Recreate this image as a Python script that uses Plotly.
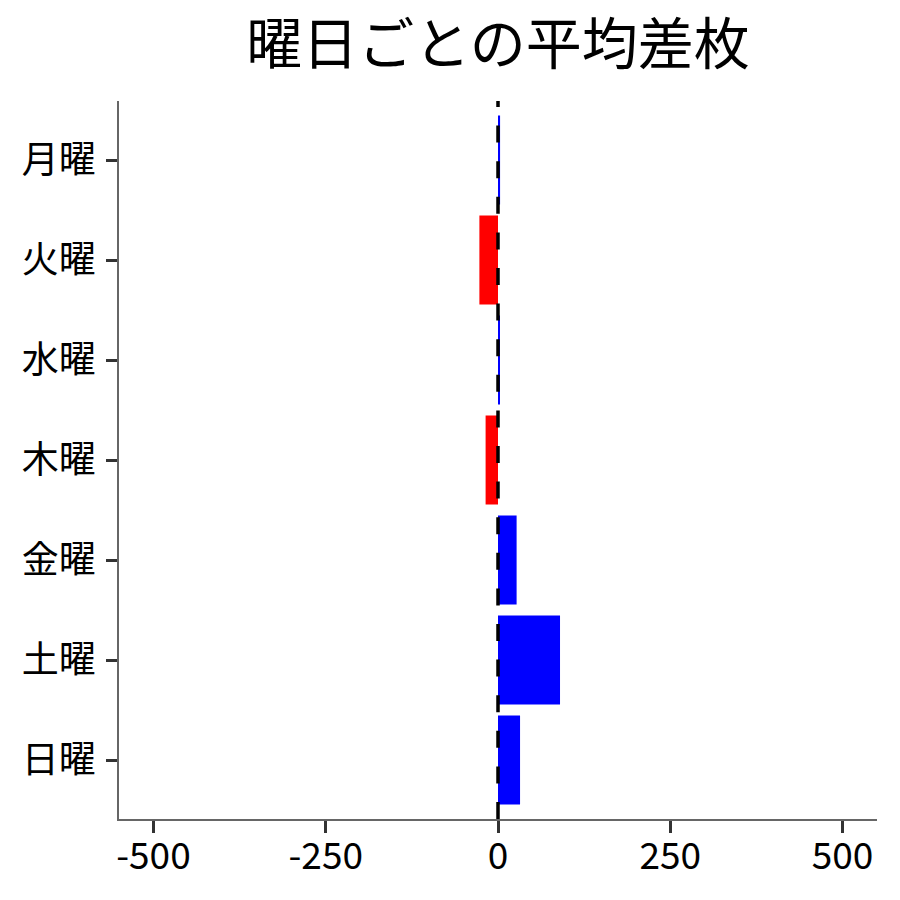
import plotly.graph_objects as go

# 曜日ごとの平均差枚
days = ["月曜", "火曜", "水曜", "木曜", "金曜", "土曜", "日曜"]
avg_diff = [3, -27, 2, -18, 27, 90, 32]

colors = ["#0000FF" if v >= 0 else "#FF0000" for v in avg_diff]

fig = go.Figure()
fig.add_trace(go.Bar(
    x=avg_diff,
    y=days,
    orientation="h",
    marker=dict(color=colors, line=dict(width=0)),
    width=0.89,
    showlegend=False,
))

# zero line, dashed
fig.add_shape(type="line", xref="x", yref="paper", x0=0, x1=0, y0=0, y1=1,
              line=dict(color="black", width=3.5, dash="17px,18.6px"), layer="above")

# page body has an 8px margin, margins below account for it
fig.update_layout(
    width=900, height=900,
    paper_bgcolor="white", plot_bgcolor="white",
    font=dict(family="Noto Sans CJK JP", size=37, color="black"),
    title=dict(text="曜日ごとの平均差枚", xref="paper", x=0.5, xanchor="center",
               y=0.96, yanchor="middle", font=dict(size=56, color="black")),
    margin=dict(l=111, r=31, t=93, b=89),
    bargap=0.11,
)
fig.update_xaxes(
    range=[-550, 550], tickvals=[-500, -250, 0, 250, 500],
    ticktext=["-500", "-250", "0", "250", "500"],
    showgrid=False, zeroline=False, automargin=False,
    showline=True, linecolor="#666666", linewidth=1.5,
    ticks="outside", ticklen=12, tickwidth=3, tickcolor="#333333",
    ticklabelstandoff=-8,
)
fig.update_yaxes(
    categoryorder="array", categoryarray=days,
    range=[6.59, -0.59],
    showgrid=False, zeroline=False, automargin=False,
    showline=True, linecolor="#666666", linewidth=1.5,
    ticks="outside", ticklen=11, tickwidth=3, tickcolor="#333333",
    ticklabelstandoff=3,
)

fig.write_html("out.html")
